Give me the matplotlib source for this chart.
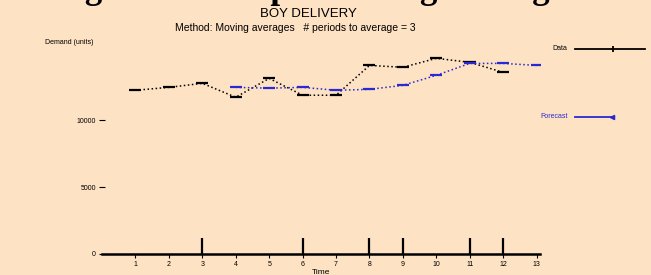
import matplotlib.pyplot as plt
from matplotlib.lines import Line2D

plt.rcParams['font.family'] = ['Liberation Sans', 'DejaVu Sans']

# Data
periods = [1, 2, 3, 4, 5, 6, 7, 8, 9, 10, 11, 12]
demand = [12240, 12460, 12760, 11720, 13130, 11870, 11870, 14100, 13960, 14630, 14330, 13580]

fcst_periods = [4, 5, 6, 7, 8, 9, 10, 11, 12, 13]
forecast = [12460, 12400, 12460, 12240, 12310, 12610, 13360, 14250, 14250, 14100]

bar_periods = [3, 6, 8, 9, 11, 12]
bar_heights = [1200, 1200, 1200, 1200, 1200, 1200]

x_ticks = list(range(1, 14))
y_ticks = [0, 5000, 10000]
y_labels = ['0', '5000', '10000']

bg = '#fde2c4'
blue = '#2a2ad0'

fig = plt.figure(figsize=(6.51, 2.75), dpi=100, facecolor=bg)
ax = fig.add_axes([102 / 651, 21 / 275, 438 / 651, 214 / 275])
ax.set_facecolor(bg)

# series
ax.plot(periods, demand, color='black', linestyle=':', linewidth=1.1,
        marker='_', markersize=8, markeredgewidth=1.6)
ax.plot(fcst_periods, forecast, color=blue, linestyle=':', linewidth=1.1,
        marker='_', markersize=9, markeredgewidth=1.6)
ax.vlines(bar_periods, 0, bar_heights, color='black', linewidth=1.6)

ax.set_xlim(0, 13.1)
ax.set_ylim(0, 16000)
ax.set_xticks(x_ticks)
ax.set_xticklabels([str(t) for t in x_ticks], fontsize=5)
ax.set_yticks(y_ticks)
ax.set_yticklabels(y_labels, fontsize=5)
ax.tick_params(axis='x', length=3, width=0.8, pad=2)
ax.tick_params(axis='y', length=5, width=0.8, direction='inout', pad=2)

for s in ['top', 'right', 'left']:
    ax.spines[s].set_visible(False)
ax.spines['bottom'].set_linewidth(1.8)

ax.set_xlabel('Time', fontsize=6, labelpad=1)
fig.text(45 / 651, 1 - 42 / 275, 'Demand (units)', fontsize=5, va='center')

# titles (the big heading is cut off by the top edge, as in the source)
fig.text(309 / 651, 1 + 2 / 275, 'Figure 6.2 Simple Moving Average', fontsize=25,
         family='Liberation Serif', weight='bold', ha='center', va='baseline')
fig.text(308 / 651, 1 - 14 / 275, 'BOY DELIVERY', fontsize=9.5, ha='center', va='center')
fig.text(295 / 651, 1 - 28 / 275, 'Method: Moving averages   # periods to average = 3',
         fontsize=7.5, ha='center', va='center')

# legend drawn at the right
fig.text(552 / 651, 1 - 49 / 275, 'Data', fontsize=5, va='center')
fig.add_artist(Line2D([575 / 651, 645 / 651], [1 - 49 / 275, 1 - 49 / 275],
                      color='black', linewidth=1.3))
fig.add_artist(Line2D([613 / 651], [1 - 49 / 275], color='black', marker='|',
                      markersize=5, markeredgewidth=1.3))
fig.text(540 / 651, 1 - 116 / 275, 'Forecast', fontsize=5, va='center', color=blue)
fig.add_artist(Line2D([575 / 651, 612 / 651], [1 - 117 / 275, 1 - 117 / 275],
                      color=blue, linewidth=1.3))
fig.add_artist(Line2D([612 / 651], [1 - 117 / 275], color=blue, marker='<',
                      markersize=3))

plt.savefig('out.png', dpi=100, facecolor=bg)
